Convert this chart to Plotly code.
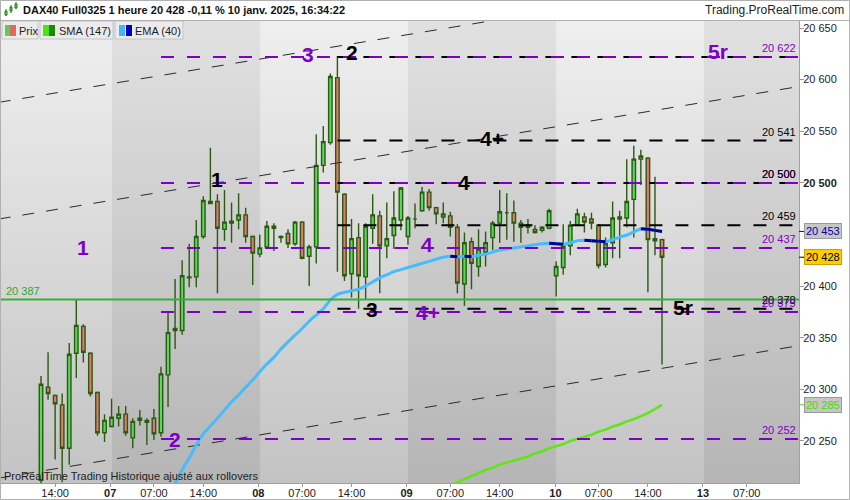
import plotly.graph_objects as go

# ------------------------------
# Data: hourly DAX40 bars (bar index 0 = first visible bar on Mon 06)
# ------------------------------
opens = [20212, 20302, 20294, 20285, 20243, 20335, 20361, 20335, 20297, 20258,
         20264, 20272, 20276, 20253, 20272, 20268, 20272, 20258, 20314, 20357,
         20357, 20409, 20409, 20448, 20482, 20482, 20455, 20463, 20464, 20469,
         20448, 20431, 20438, 20456, 20448, 20451, 20441, 20462, 20429, 20438,
         20517, 20539, 20602, 20489, 20412, 20447, 20409, 20456, 20468, 20439,
         20449, 20464, 20448, 20465, 20473, 20491, 20476, 20467, 20468, 20457,
         20402, 20443, 20419, 20433, 20447, 20461, 20471, 20471, 20461, 20459,
         20455, 20454, 20456, 20410, 20418, 20439, 20459, 20467, 20465, 20459,
         20421, 20442, 20467, 20466, 20484, 20523, 20524, 20444, 20445]
highs = [20313, 20336, 20295, 20296, 20345, 20387, 20363, 20336, 20298, 20276,
         20291, 20284, 20284, 20272, 20280, 20272, 20281, 20322, 20375, 20407,
         20425, 20441, 20464, 20487, 20534, 20489, 20493, 20481, 20490, 20476,
         20449, 20450, 20463, 20461, 20449, 20455, 20463, 20463, 20440, 20547,
         20555, 20606, 20623, 20490, 20465, 20461, 20461, 20489, 20473, 20481,
         20492, 20496, 20468, 20480, 20496, 20494, 20477, 20481, 20472, 20460,
         20452, 20447, 20455, 20453, 20463, 20493, 20490, 20483, 20464, 20465,
         20459, 20458, 20475, 20424, 20460, 20463, 20475, 20471, 20471, 20460,
         20447, 20482, 20473, 20523, 20536, 20532, 20525, 20506, 20446]
lows = [20205, 20290, 20232, 20210, 20227, 20311, 20326, 20293, 20255, 20249,
        20263, 20264, 20255, 20243, 20265, 20246, 20251, 20254, 20283, 20339,
        20353, 20399, 20399, 20446, 20480, 20393, 20444, 20442, 20455, 20442,
        20401, 20428, 20437, 20434, 20442, 20437, 20439, 20426, 20400, 20422,
        20510, 20537, 20414, 20405, 20389, 20378, 20387, 20441, 20393, 20427,
        20436, 20454, 20440, 20456, 20472, 20473, 20460, 20461, 20448, 20393,
        20381, 20397, 20409, 20419, 20435, 20442, 20445, 20443, 20442, 20451,
        20451, 20452, 20455, 20390, 20411, 20430, 20458, 20452, 20455, 20417,
        20418, 20427, 20427, 20457, 20447, 20498, 20394, 20430, 20324]
closes = [20305, 20296, 20286, 20243, 20334, 20362, 20336, 20296, 20258, 20270,
          20273, 20276, 20258, 20269, 20270, 20270, 20257, 20315, 20355, 20359,
          20410, 20408, 20448, 20483, 20480, 20456, 20462, 20461, 20469, 20448,
          20432, 20437, 20458, 20458, 20447, 20441, 20462, 20427, 20438, 20517,
          20540, 20603, 20491, 20410, 20446, 20410, 20458, 20469, 20439, 20446,
          20466, 20495, 20466, 20465, 20491, 20476, 20470, 20470, 20457, 20403,
          20442, 20422, 20436, 20442, 20461, 20472, 20471, 20461, 20457, 20457,
          20452, 20457, 20473, 20419, 20439, 20459, 20470, 20462, 20461, 20420,
          20441, 20466, 20465, 20482, 20523, 20526, 20445, 20446, 20428]
bars = list(range(len(opens)))

# EMA (40), from bar 19
ema_start = 19
ema40 = [20209, 20222, 20233.5, 20246, 20257, 20264.5, 20272, 20280, 20288, 20294.5,
         20302, 20309, 20317, 20324.5, 20331, 20339, 20346, 20352.5, 20359, 20366,
         20372, 20378, 20386.5, 20392, 20394, 20395.5, 20397, 20400, 20404, 20408,
         20411, 20414, 20416, 20418, 20420, 20422, 20424, 20426, 20428, 20429,
         20428.5, 20429, 20428.5, 20430, 20431, 20433, 20435, 20436, 20437, 20438,
         20439, 20440, 20441, 20441.5, 20441, 20440.5, 20442, 20444, 20444.5, 20444,
         20443.5, 20443, 20445, 20447.5, 20449.5, 20452.5, 20455.5, 20455, 20454, 20453]

# SMA (147), from bar 58
sma_start = 58
sma147 = [20207, 20210, 20213, 20216, 20219, 20222, 20224, 20227, 20229, 20231,
          20233, 20235, 20238, 20240, 20243, 20245, 20247, 20250, 20252, 20254,
          20256, 20259, 20261, 20264, 20266, 20269, 20271, 20274, 20277, 20281, 20285]

# horizontal levels
purple_levels = [20622, 20500, 20437, 20375, 20252]
black_levels = [20622, 20541, 20500, 20459, 20378]
green_level = 20387
purple_from = 17
black_from = 42

# channel (three parallel dashed lines)
chan_x = [-6, 108]
chan_upper = [20578, 20707]
chan_mid = [20465, 20594]
chan_low = [20214, 20343]

# wave counts
wave_text = ["1", "1", "2", "3", "2", "4+", "4", "4", "4+", "3", "5r", "5r"]
wave_x = [6.0, 24.9, 19.0, 37.8, 44.1, 63.9, 59.9, 54.7, 54.8, 46.9, 95.9, 91.0]
wave_y = [20437, 20503, 20251, 20624, 20626, 20543, 20500, 20440, 20374, 20377, 20627, 20379]
wave_col = ["p", "k", "p", "p", "k", "k", "k", "p", "p", "k", "p", "k"]

# right side level tags
tag_y = [20622, 20541, 20500, 20500, 20459, 20437, 20378, 20375, 20252]
tag_txt = ["20 622", "20 541", "20 500", "20 500", "20 459", "20 437", "20 378", "20 375", "20 252"]
tag_col = ["p", "k", "p", "k", "k", "p", "k", "p", "p"]

# axis
day_edges = [10, 31, 52, 73, 94]
hour_ticks = [2, 16, 23, 37, 44, 58, 65, 79, 86, 100]
hour_text = ["14:00", "07:00", "14:00", "07:00", "14:00", "07:00", "14:00", "07:00", "14:00", "07:00"]
day_ticks = [9.8, 30.8, 51.8, 72.9, 93.8]
day_text = ["07", "08", "09", "10", "13"]
# 20 450 sits under the EMA value box, so it is not labelled
price_ticks = [20250, 20300, 20350, 20400, 20500, 20550, 20600, 20650]

# ------------------------------
# Figure
# ------------------------------
PURPLE = "#7f00c4"
COL = {"p": PURPLE, "k": "#000000"}
FONT = "Liberation Sans, Arial, sans-serif"
X_LO, X_HI = -5.67, 107.41
Y_LO, Y_HI = 20209.3, 20656.8
PL, PR, PT, PB = 1, 799, 21, 483


def px(x):
    return (x - PL) / (PR - PL)


def py(y):
    return (PB - y) / (PB - PT)


fig = go.Figure()

# background: day bands, lighter at the top (heatmap sits below the candles)
edges = [X_LO - 2] + day_edges + [X_HI + 2]
n_rows = 60
y_edges = [Y_LO + (Y_HI - Y_LO) * k / n_rows for k in range(n_rows + 1)]
z = []
for r in range(n_rows):
    f = (r + 0.5) / n_rows
    z.append([f + (0 if c % 2 == 0 else 2) for c in range(len(edges) - 1)])
fig.add_trace(go.Heatmap(
    x=edges, y=y_edges, z=z, zmin=0, zmax=3, showscale=False, hoverinfo="skip",
    colorscale=[[0, "#c3c3c3"], [1 / 3, "#efefef"], [2 / 3, "#b5b5b5"], [1, "#e1e1e1"]]))

# candles
fig.add_trace(go.Candlestick(
    x=bars, open=opens, high=highs, low=lows, close=closes,
    increasing=dict(fillcolor="#57dc57", line=dict(color="#2b5a12", width=1.4)),
    decreasing=dict(fillcolor="#e8786c", line=dict(color="#2b5a12", width=1.4)),
    whiskerwidth=0, hoverinfo="skip", showlegend=False))

# channel
for ys in (chan_upper, chan_mid, chan_low):
    fig.add_trace(go.Scatter(x=chan_x, y=ys, mode="lines",
                             line=dict(color="#2a2a2a", width=1, dash="12px,12px"),
                             hoverinfo="skip", showlegend=False))

# SMA 147
fig.add_trace(go.Scatter(x=list(range(sma_start, sma_start + len(sma147))), y=sma147,
                         mode="lines", line=dict(color="#5fe614", width=2.5),
                         hoverinfo="skip", showlegend=False))

# EMA 40, dark where falling
ema_x = list(range(ema_start, ema_start + len(ema40)))
fig.add_trace(go.Scatter(x=ema_x, y=ema40, mode="lines",
                         line=dict(color="#45bdfc", width=3, shape="spline", smoothing=0.4),
                         hoverinfo="skip", showlegend=False))
dx, dy = [], []
for i in range(1, len(ema40)):
    if ema40[i] < ema40[i - 1]:
        dx += [ema_x[i - 1], ema_x[i], None]
        dy += [ema40[i - 1], ema40[i], None]
fig.add_trace(go.Scatter(x=dx, y=dy, mode="lines", line=dict(color="#00008f", width=3),
                         hoverinfo="skip", showlegend=False))

shapes = []
# horizontal levels
for lv in black_levels:
    shapes.append(dict(type="line", xref="x", yref="y", x0=black_from, x1=X_HI + 2, y0=lv, y1=lv,
                       line=dict(color="#000000", width=2, dash="13px,13px"), layer="above"))
for lv in purple_levels:
    shapes.append(dict(type="line", xref="x", yref="y", x0=purple_from, x1=X_HI + 2, y0=lv, y1=lv,
                       line=dict(color=PURPLE, width=2, dash="13px,13px"), layer="above"))
shapes.append(dict(type="line", xref="x", yref="y", x0=X_LO - 2, x1=X_HI + 2, y0=green_level, y1=green_level,
                   line=dict(color="#36b036", width=2), layer="above"))

# legend boxes
for x0, x1 in [(2, 38), (40, 113), (115, 183)]:
    shapes.append(dict(type="rect", xref="paper", yref="paper", x0=px(x0), x1=px(x1), y0=py(39), y1=py(21),
                       fillcolor="#ebebeb", line=dict(color="#c4c4c4", width=1), layer="above"))
for x0, c in [(5, "#5ccd5c"), (10, "#e0695f"), (43, "#47e60c"), (49, "#1c8a00"), (119, "#3db8ff"), (126, "#0000bb")]:
    shapes.append(dict(type="rect", xref="paper", yref="paper", x0=px(x0), x1=px(x0 + 6), y0=py(36), y1=py(25),
                       fillcolor=c, line=dict(width=0), layer="above"))
# header icon
for x0, yt, yb, bt, bb in [(5, 9, 16, 11, 15), (10, 5, 13, 7, 11), (15, 2, 9, 4, 8)]:
    shapes.append(dict(type="line", xref="paper", yref="paper", x0=px(x0 + 1), x1=px(x0 + 1), y0=py(yb), y1=py(yt),
                       line=dict(color="#2b7a12", width=1)))
    shapes.append(dict(type="rect", xref="paper", yref="paper", x0=px(x0), x1=px(x0 + 2), y0=py(bb), y1=py(bt),
                       fillcolor="#5ccd5c", line=dict(color="#2b7a12", width=1)))
# frames
shapes.append(dict(type="line", xref="paper", yref="paper", x0=px(0), x1=px(850), y0=py(20.5), y1=py(20.5),
                   line=dict(color="#b0b0b0", width=1)))
shapes.append(dict(type="rect", xref="paper", yref="paper", x0=px(0.5), x1=px(849.5), y0=py(499.5), y1=py(0.5),
                   line=dict(color="#b0b0b0", width=1)))
# value marks on the axis
for v, c in [(20453, "#0000aa"), (20428, "#000000"), (20285, "#44dd00")]:
    shapes.append(dict(type="line", xref="paper", yref="y", x0=1, x1=px(805), y0=v, y1=v,
                       line=dict(color=c, width=1)))

ann = []
for t, x, y, c in zip(wave_text, wave_x, wave_y, wave_col):
    ann.append(dict(x=x, y=y, xref="x", yref="y", text="<b>%s</b>" % t, showarrow=False,
                    yanchor="middle", font=dict(family=FONT, size=21, color=COL[c])))
for y, t, c in zip(tag_y, tag_txt, tag_col):
    ann.append(dict(x=107.2, y=y, xref="x", yref="y", text=t, showarrow=False, xanchor="right",
                    yanchor="bottom", yshift=1, font=dict(family=FONT, size=11, color=COL[c])))
ann.append(dict(x=px(4), y=green_level, xref="paper", yref="y", text="20 387", showarrow=False,
                xanchor="left", yanchor="bottom", yshift=1, font=dict(family=FONT, size=11, color="#2fa82f")))
# price boxes on the axis
for v, t, fc, bg, bc in [(20453, "20 453", "#0000aa", "#c6c6c6", "#9a9a9a"),
                         (20428, "20 428", "#000000", "#ffcc00", "#c9a000"),
                         (20285, "20 285", "#44dd00", "#c6c6c6", "#9a9a9a")]:
    ann.append(dict(x=px(804), y=v, xref="paper", yref="y", text=t, showarrow=False, xanchor="left",
                    yanchor="middle", font=dict(family=FONT, size=11, color=fc), bgcolor=bg, bordercolor=bc,
                    borderwidth=1, borderpad=1))
# legend texts
for x, t in [(17, "Prix"), (57, "SMA (147)"), (133, "EMA (40)")]:
    ann.append(dict(x=px(x), y=py(30.5), xref="paper", yref="paper", text=t, showarrow=False,
                    xanchor="left", yanchor="middle", font=dict(family=FONT, size=11, color="#222222")))
# header
ann.append(dict(x=px(21), y=py(10), xref="paper", yref="paper", showarrow=False, xanchor="left",
                yanchor="middle",
                text="<b>DAX40 Full0325 1 heure 20 428 -0,11 % 10 janv. 2025, 16:34:22</b>",
                font=dict(family=FONT, size=11, color="#111111")))
ann.append(dict(x=px(846), y=py(10), xref="paper", yref="paper", showarrow=False, xanchor="right",
                yanchor="middle", text="Trading.ProRealTime.com",
                font=dict(family=FONT, size=12, color="#222222")))
ann.append(dict(x=px(2), y=py(476), xref="paper", yref="paper", showarrow=False, xanchor="left",
                yanchor="middle", text="ProRealTime Trading Historique ajusté aux rollovers",
                font=dict(family=FONT, size=11, color="#222222")))

fig.update_layout(
    width=850, height=500,
    margin=dict(l=PL, r=850 - PR, t=PT, b=500 - PB),
    paper_bgcolor="#ffffff", plot_bgcolor="#d8d8d8",
    shapes=shapes, annotations=ann, showlegend=False,
    font=dict(family=FONT, size=11, color="#222222"),
    xaxis=dict(range=[X_LO, X_HI], rangeslider=dict(visible=False), showgrid=False, zeroline=False,
               automargin=False, tickvals=hour_ticks + day_ticks,
               ticktext=hour_text + ["<b>%s</b>" % d for d in day_text],
               ticks="outside", ticklen=3, tickcolor="#999999", showline=True, linecolor="#a0a0a0",
               ticklabelstandoff=-3, tickfont=dict(size=11, color="#222222")),
    yaxis=dict(range=[Y_LO, Y_HI], side="right", showgrid=False, zeroline=False, automargin=False,
               tickvals=price_ticks,
               ticktext=["<b>20 500</b>" if v == 20500 else "%d %03d" % (v // 1000, v % 1000) for v in price_ticks],
               ticks="outside", ticklen=4, tickcolor="#999999", showline=True, linecolor="#a0a0a0",
               ticklabelstandoff=-3, tickfont=dict(size=11, color="#222222")),
)

# the page body has a default 8px margin; remove it so the figure sits at the window corner
fig.write_html("out.html", config={"displayModeBar": False},
               post_script="document.body.style.margin='0';")
